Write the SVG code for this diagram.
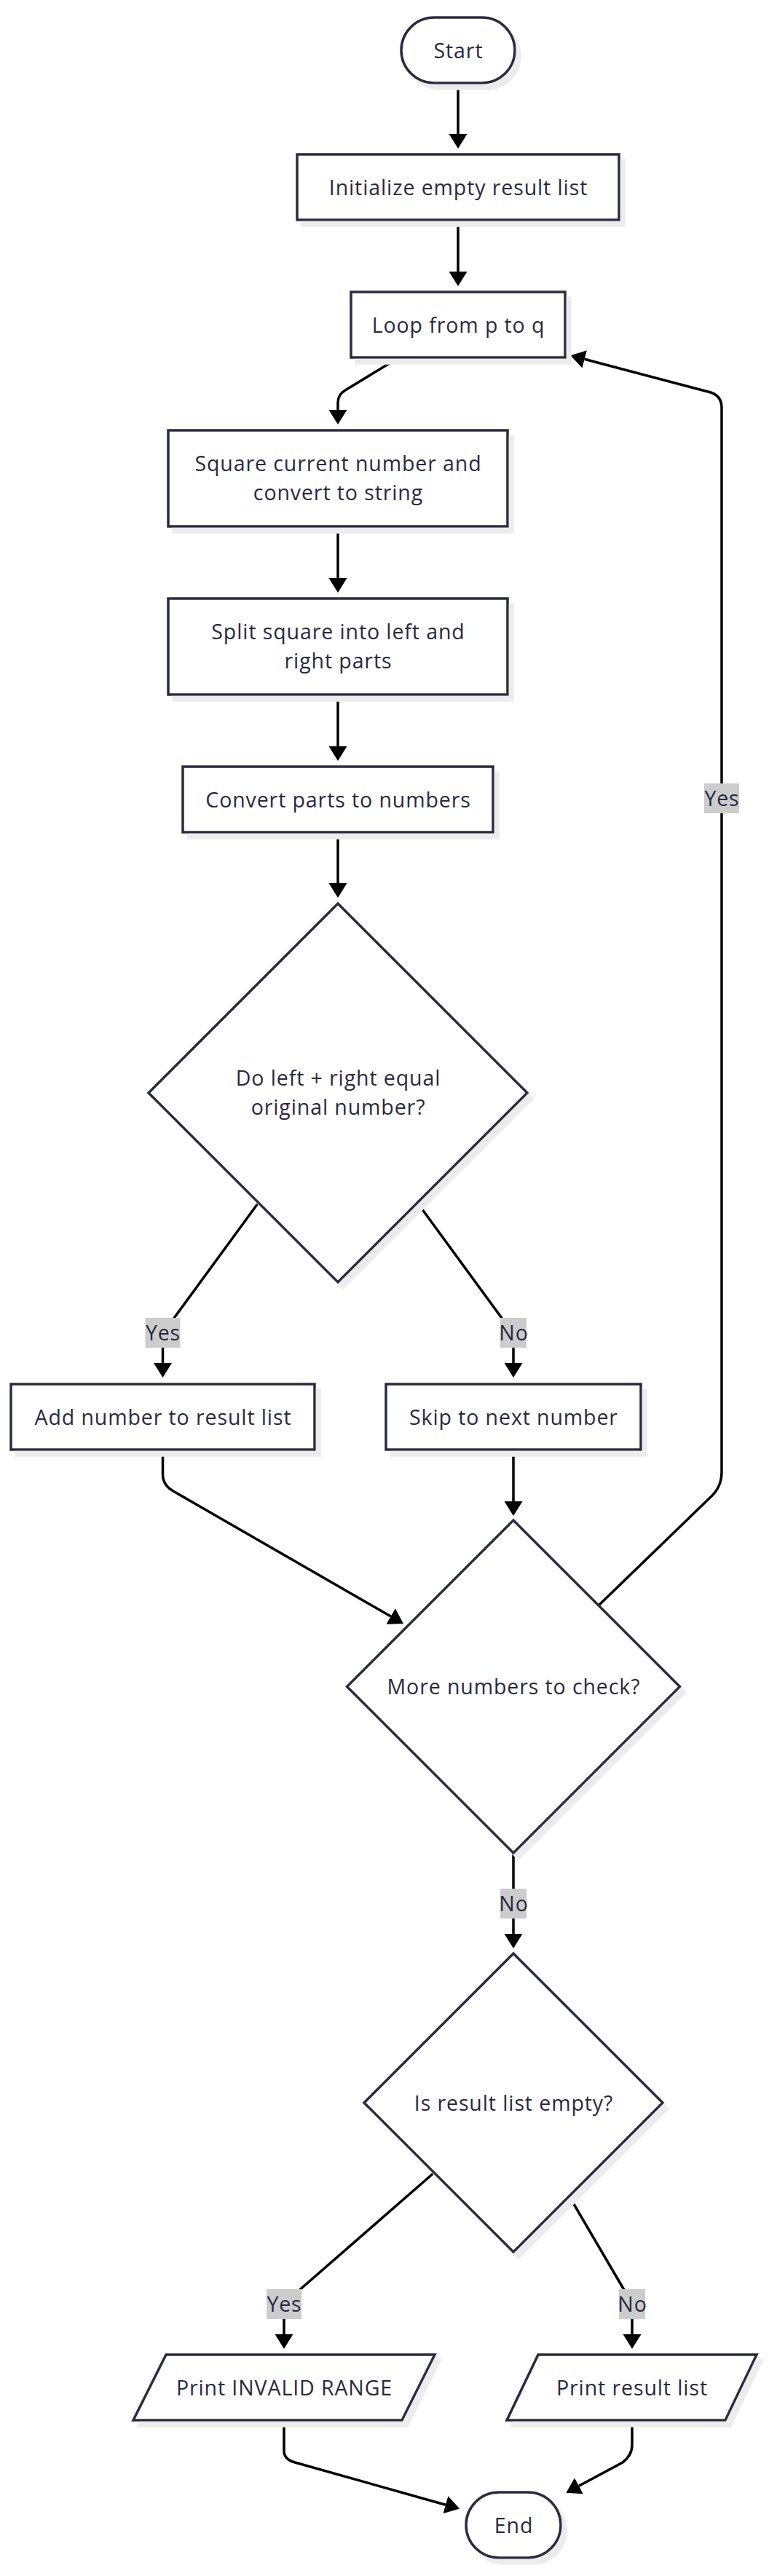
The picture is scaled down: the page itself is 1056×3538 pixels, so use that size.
<svg xmlns="http://www.w3.org/2000/svg" width="1056" height="3538" viewBox="0 0 1056 3538">
<style>
.node{fill:#ffffff;stroke:#2b2b42;stroke-width:3.5;filter:url(#shadow)}
.t{font-family:"Open Sans","Noto Sans","Liberation Sans",sans-serif;font-size:28.5px;letter-spacing:0.9px;fill:#29293f;text-anchor:middle}
.edge{fill:none;stroke:#000000;stroke-width:3.5;marker-end:url(#arrow)}
.lbl{fill:#cccccc}
</style>
<defs>
<filter id="shadow" x="-10%" y="-10%" width="130%" height="130%">
<feDropShadow dx="7" dy="8" stdDeviation="0.3" flood-color="#ececec" flood-opacity="1"/>
</filter>
<marker id="arrow" viewBox="0 0 20 25" markerUnits="userSpaceOnUse" markerWidth="20" markerHeight="25" refX="0" refY="12.5" orient="auto">
<path d="M0,0 L20,12.5 L0,25 z" fill="#000000"/>
</marker>
</defs>
<rect width="1056" height="3538" fill="#ffffff"/>

<g id="connectors">
<path class="edge" d="M629,114 V184"/>
<path class="edge" d="M629,302 V373"/>
<path class="edge" d="M548,491 L474,536 Q464,542 464,553 V563"/>
<path class="edge" d="M464,723 V794"/>
<path class="edge" d="M464,954 V1025"/>
<path class="edge" d="M464,1143 V1213"/>
<path class="edge" d="M354,1653 L237,1813 Q223.5,1831 223.5,1850 V1872"/>
<path class="edge" d="M574,1653 L691,1813 Q705,1831 705,1850 V1872"/>
<path class="edge" d="M223.5,1991 V2025 Q223.5,2040 238,2048 L536.6,2220"/>
<path class="edge" d="M705,1991 V2062"/>
<path class="edge" d="M822,2205 L978,2054 Q991,2041 991,2022 V560 Q991,544 976,539 L802.7,493.3"/>
<path class="edge" d="M705,2545 V2656"/>
<path class="edge" d="M595,2985 L408,3148 Q390,3164 390,3180 V3206"/>
<path class="edge" d="M782,3017 L857,3145 Q868,3164 868,3180 V3206"/>
<path class="edge" d="M390,3324 V3366 Q390,3378 405,3382 L611.9,3440.2"/>
<path class="edge" d="M868,3324 V3358 Q868,3372 855,3382 L795,3414.3"/>
</g>

<g id="edge-labels">
<g id="label-yes-1"><rect class="lbl" x="199.5" y="1810" width="48" height="41"/><text class="t" x="224" y="1841">Yes</text></g>
<g id="label-no-1"><rect class="lbl" x="687" y="1810" width="36" height="41"/><text class="t" x="705.5" y="1841">No</text></g>
<g id="label-yes-loop"><rect class="lbl" x="967" y="1076" width="48" height="41"/><text class="t" x="991.5" y="1107">Yes</text></g>
<g id="label-no-2"><rect class="lbl" x="687" y="2594" width="36" height="41"/><text class="t" x="705.5" y="2625">No</text></g>
<g id="label-yes-3"><rect class="lbl" x="366" y="3144" width="48" height="41"/><text class="t" x="390.5" y="3175">Yes</text></g>
<g id="label-no-3"><rect class="lbl" x="850" y="3144" width="36" height="41"/><text class="t" x="868.5" y="3175">No</text></g>
</g>

<g id="start"><rect class="node" x="551" y="24" width="156" height="90" rx="45" ry="45"/><text class="t" x="629.5" y="79.5">Start</text></g>
<g id="init"><rect class="node" x="408" y="212" width="442" height="90"/><text class="t" x="629.5" y="267.5">Initialize empty result list</text></g>
<g id="loop"><rect class="node" x="482" y="401" width="294" height="90"/><text class="t" x="629.5" y="456.5">Loop from p to q</text></g>
<g id="square"><rect class="node" x="231" y="591" width="466" height="132"/><text class="t" x="464.5" y="647">Square current number and</text><text class="t" x="464.5" y="687">convert to string</text></g>
<g id="split"><rect class="node" x="231" y="822" width="466" height="132"/><text class="t" x="464.5" y="878">Split square into left and</text><text class="t" x="464.5" y="918">right parts</text></g>
<g id="convert"><rect class="node" x="251" y="1053" width="426" height="90"/><text class="t" x="464.5" y="1108.5">Convert parts to numbers</text></g>
<g id="check-sum"><polygon class="node" points="464,1241 724,1501 464,1761 204,1501"/><text class="t" x="464.5" y="1490.5">Do left + right equal</text><text class="t" x="464.5" y="1530.5">original number?</text></g>
<g id="add"><rect class="node" x="15" y="1901" width="417" height="90"/><text class="t" x="224" y="1956.5">Add number to result list</text></g>
<g id="skip"><rect class="node" x="530" y="1901" width="350" height="90"/><text class="t" x="705.5" y="1956.5">Skip to next number</text></g>
<g id="more"><polygon class="node" points="705,2088 933.5,2316.5 705,2545 476.5,2316.5"/><text class="t" x="705.5" y="2327">More numbers to check?</text></g>
<g id="empty"><polygon class="node" points="705,2683 910,2888 705,3093 500,2888"/><text class="t" x="705.5" y="2898.5">Is result list empty?</text></g>
<g id="print-invalid"><polygon class="node" points="228,3234 597,3234 552,3324 183,3324"/><text class="t" x="390.5" y="3289.5">Print INVALID RANGE</text></g>
<g id="print-result"><polygon class="node" points="739,3234 1039,3234 996,3324 696,3324"/><text class="t" x="868" y="3289.5">Print result list</text></g>
<g id="end"><rect class="node" x="640" y="3423" width="130" height="90" rx="45" ry="45"/><text class="t" x="705.5" y="3478.5">End</text></g>
</svg>
